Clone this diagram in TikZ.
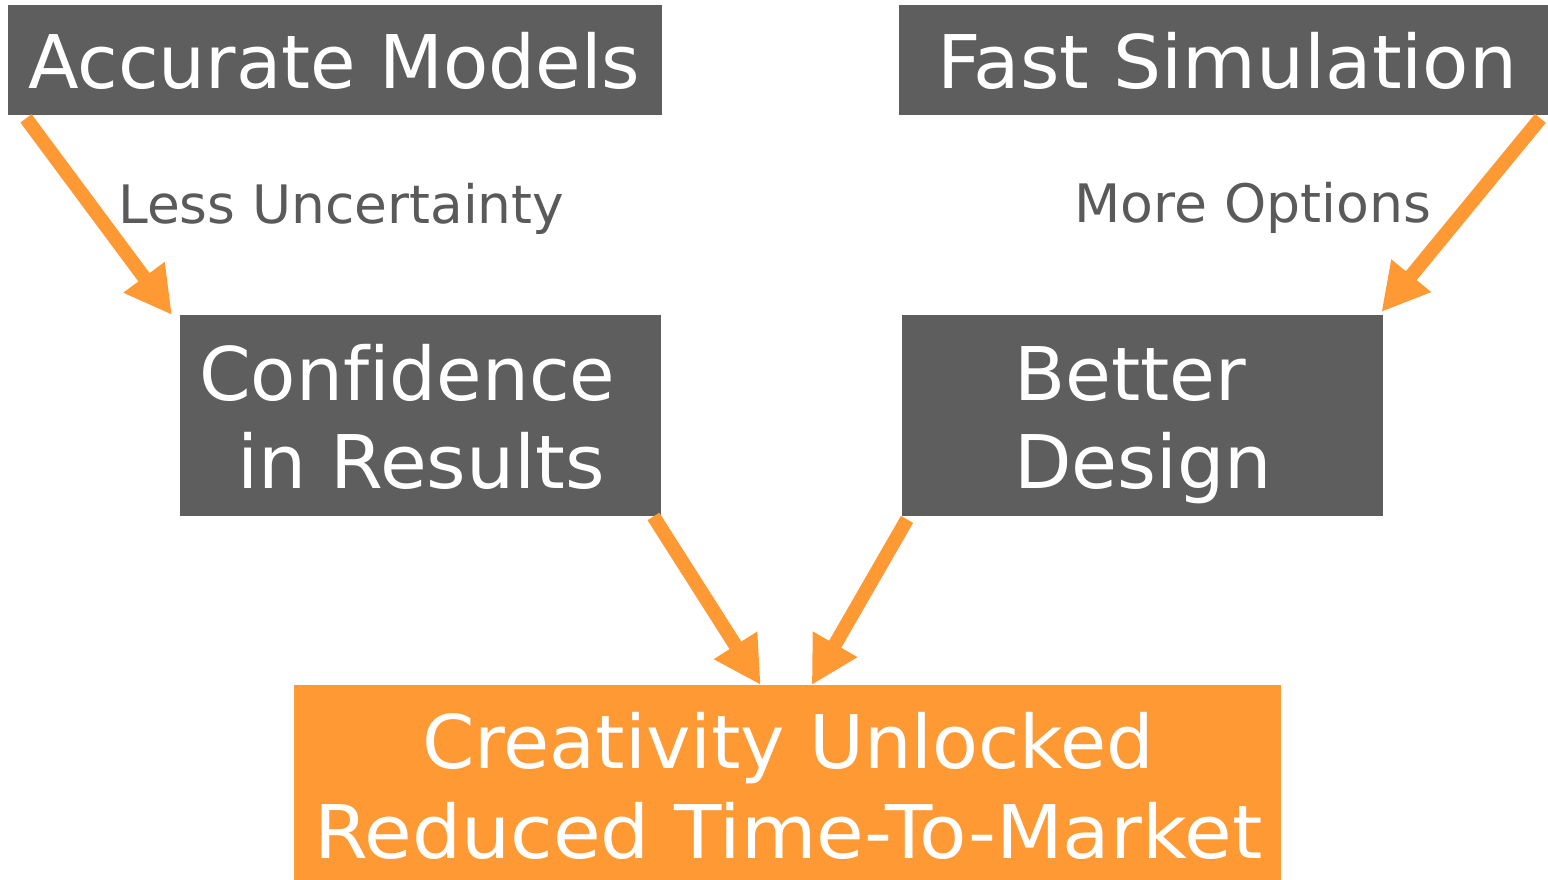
\documentclass[tikz,border=0pt]{standalone}
\usepackage{fontspec}
\setmainfont[Ligatures=NoCommon]{DejaVu Sans}
\usepackage{graphicx}
\usetikzlibrary{arrows.meta}
\definecolor{boxgrey}{HTML}{5E5E5E}
\definecolor{orng}{HTML}{FF9933}
\definecolor{lblgrey}{HTML}{5A5A5A}
\newcommand\fw[2]{\resizebox{#1pt}{\height}{#2}}
\begin{document}
\begin{tikzpicture}[x=1pt,y=-1pt,
  greybox/.style={fill=boxgrey,draw=none,inner sep=0pt,anchor=north west},
  orangebox/.style={fill=orng,draw=none,inner sep=0pt,anchor=north west},
  bigtext/.style={text=white,font=\fontsize{74}{80}\selectfont,inner sep=0pt,anchor=base west},
  lbltext/.style={text=lblgrey,font=\fontsize{53}{60}\selectfont,inner sep=0pt,anchor=base west},
  flow/.style={draw=orng,line width=14pt,-{Triangle[length=47pt,width=48pt]}}]
\useasboundingbox (0,0) rectangle (1548,880);
\fill[white] (0,0) rectangle (1548,880);
% boxes
\node[greybox,minimum width=654pt,minimum height=110pt] (am) at (8,5) {};
\node[greybox,minimum width=649pt,minimum height=110pt] (fs) at (899,5) {};
\node[greybox,minimum width=481pt,minimum height=201pt] (cf) at (180,315) {};
\node[greybox,minimum width=481pt,minimum height=201pt] (bd) at (902,315) {};
\node[orangebox,minimum width=987pt,minimum height=196pt] (cr) at (294,685) {};
% texts
\node[bigtext] (t1) at (28,89) {\fw{612}{Accurate Models}};
\node[bigtext] (t2) at (937,89) {\fw{580}{Fast Simulation}};
\node[bigtext] (t3) at (199,400) {\fw{416}{Confidence}};
\node[bigtext] (t4) at (237,488) {\fw{368}{in Results}};
\node[bigtext] (t5) at (1014,400) {\fw{232}{Better}};
\node[bigtext] (t6) at (1014,488) {\fw{258}{Design}};
\node[bigtext] (t7) at (422,768) {\fw{732}{Creativity Unlocked}};
\node[bigtext] (t8) at (314,858) {\fw{948}{Reduced Time-To-Market}};
\node[lbltext] (l1) at (118,223) {\fw{446}{Less Uncertainty}};
\node[lbltext] (l2) at (1074,222) {\fw{357}{More Options}};
% arrows
\draw[flow] ([shift={(18,3)}]am.south west) -- ([shift={(-8,0)}]cf.north west);
\draw[flow] ([shift={(-8,3)}]fs.south east) -- ([shift={(-2,-3)}]bd.north east);
\draw[flow] ([shift={(-8,0)}]cf.south east) -- ([shift={(-27,0)}]cr.north);
\draw[flow] ([shift={(5,3)}]bd.south west) -- ([shift={(24,0)}]cr.north);
\end{tikzpicture}
\end{document}
